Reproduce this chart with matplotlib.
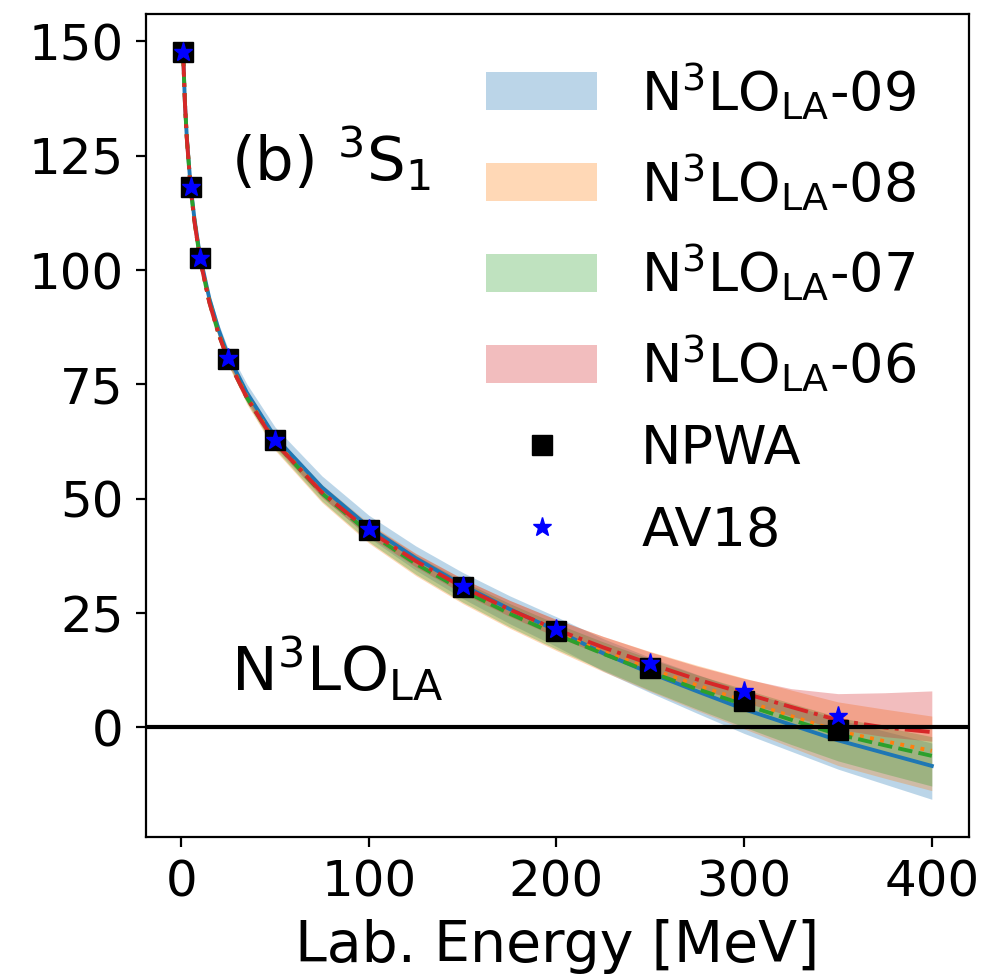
import matplotlib
matplotlib.use('Agg')
import matplotlib.pyplot as plt
import numpy as np

# lab energies [MeV] of the calculated curves
energy = [1, 2, 3, 5, 7, 10, 15, 20, 25, 35, 50, 75, 100, 125, 150, 175, 200, 225, 250, 275, 300, 325, 350, 375, 400]

# central phase shifts [deg] and band offsets (upper / lower) for each model
d09 = [147.7, 136.6, 129.0, 118.5, 111.4, 103.1, 93.8, 86.9, 81.3, 73.2, 63.5, 52.5, 43.8, 37.0, 31.1, 25.9, 21.2, 16.2, 11.9, 7.9, 4.0, 0.6, -2.8, -5.6, -8.4]
d09_hi = [0.1, 0.2, 0.3, 0.5, 0.6, 0.8, 1.0, 1.3, 1.5, 1.9, 2.2, 2.5, 2.6, 2.7, 2.8, 2.9, 3.0, 3.2, 3.4, 3.7, 4.0, 4.3, 4.6, 4.8, 5.0]
d09_lo = [0.1, 0.2, 0.3, 0.4, 0.5, 0.6, 0.8, 1.0, 1.2, 1.4, 1.7, 2.0, 2.3, 2.6, 2.9, 3.2, 3.5, 3.9, 4.3, 4.8, 5.3, 5.8, 6.3, 6.8, 7.3]

d08 = [147.7, 136.5, 128.8, 118.2, 111.0, 102.6, 93.1, 86.1, 80.5, 72.3, 62.5, 51.4, 42.8, 36.0, 30.2, 25.2, 20.7, 16.6, 12.8, 9.2, 5.8, 2.5, -0.8, -3.0, -5.1]
d08_hi = [0.1, 0.2, 0.3, 0.4, 0.5, 0.6, 0.8, 1.0, 1.1, 1.3, 1.5, 1.7, 1.9, 2.1, 2.3, 2.6, 2.9, 3.3, 3.8, 4.4, 5.0, 5.7, 6.4, 7.0, 7.6]
d08_lo = [0.1, 0.2, 0.3, 0.4, 0.5, 0.7, 0.9, 1.1, 1.3, 1.6, 1.9, 2.2, 2.5, 2.8, 3.1, 3.5, 3.9, 4.4, 4.9, 5.5, 6.1, 6.8, 7.5, 8.1, 8.7]

d07 = [147.7, 136.5, 128.8, 118.1, 110.9, 102.5, 93.0, 86.0, 80.4, 72.1, 62.3, 51.2, 42.6, 35.8, 30.0, 24.9, 20.3, 16.1, 12.1, 8.4, 5.0, 1.7, -1.5, -3.9, -6.2]
d07_hi = [0.1, 0.1, 0.2, 0.3, 0.4, 0.5, 0.6, 0.7, 0.8, 1.0, 1.2, 1.4, 1.6, 1.8, 2.0, 2.2, 2.4, 2.6, 2.9, 3.1, 3.4, 3.6, 3.8, 4.0, 4.2]
d07_lo = [0.1, 0.1, 0.2, 0.3, 0.4, 0.5, 0.7, 0.8, 0.9, 1.1, 1.4, 1.7, 2.0, 2.3, 2.6, 2.9, 3.2, 3.6, 4.0, 4.4, 4.9, 5.4, 5.8, 6.2, 6.6]

d06 = [147.7, 136.4, 128.7, 118.0, 110.8, 102.4, 92.9, 85.9, 80.3, 72.1, 62.3, 51.4, 43.0, 36.4, 30.7, 25.8, 21.4, 17.5, 13.9, 10.5, 7.5, 4.5, 1.6, 0.0, -1.0]
d06_hi = [0.1, 0.1, 0.2, 0.3, 0.4, 0.5, 0.6, 0.7, 0.8, 0.9, 1.0, 1.2, 1.4, 1.6, 1.8, 2.0, 2.2, 2.4, 2.6, 2.9, 3.2, 4.0, 5.8, 7.6, 9.0]
d06_lo = [0.1, 0.1, 0.2, 0.3, 0.3, 0.4, 0.5, 0.6, 0.7, 0.8, 1.0, 1.1, 1.2, 1.3, 1.4, 1.5, 1.6, 1.7, 1.8, 1.9, 2.0, 2.0, 2.0, 2.0, 2.0]

# reference phase shifts
e_ref = [1, 5, 10, 25, 50, 100, 150, 200, 250, 300, 350]
npwa = [147.7, 118.2, 102.6, 80.6, 62.8, 43.2, 30.7, 21.2, 13.1, 5.8, -0.6]
av18 = [147.7, 118.2, 102.6, 80.7, 62.9, 43.4, 31.0, 21.6, 14.2, 8.0, 2.6]

models = [
    ('09', d09, d09_hi, d09_lo, 'tab:blue', '-'),
    ('08', d08, d08_hi, d08_lo, 'tab:orange', ':'),
    ('07', d07, d07_hi, d07_lo, 'tab:green', '--'),
    ('06', d06, d06_hi, d06_lo, 'tab:red', '-.'),
]

plt.rcParams['font.size'] = 36
plt.rcParams['mathtext.default'] = 'regular'

fig = plt.figure(figsize=(9.84, 9.77), dpi=100)
ax = fig.add_axes([0.148, 0.1436, 0.837, 0.842])

E = np.array(energy)
for tag, c, hi, lo, col, ls in models:
    c = np.array(c)
    ax.fill_between(E, c - np.array(lo), c + np.array(hi), color=col, alpha=0.3, lw=0,
                    label=r'N$^3$LO$_{LA}$-' + tag)
    ax.plot(E, c, color=col, ls=ls, lw=2.8)

ax.plot(e_ref, npwa, 's', color='black', ms=14, label='NPWA')
ax.plot(e_ref, av18, '*', color='blue', ms=14, label='AV18')
ax.axhline(0, color='black', lw=3)

ax.text(0.104, 0.8225, r'(b) $^3$S$_1$', transform=ax.transAxes, va='center', ha='left', fontsize=44)
ax.text(0.104, 0.178, r'N$^3$LO$_{LA}$', transform=ax.transAxes, va='baseline', ha='left', fontsize=44)

ax.set_xlabel('Lab. Energy [MeV]', fontsize=41)
ax.xaxis.label.set_verticalalignment('baseline')
ax.xaxis.set_label_coords(0.5, -0.1523)
ax.set_xticks([0, 100, 200, 300, 400])
ax.set_yticks([0, 25, 50, 75, 100, 125, 150])
ax.tick_params(length=7, width=1.6, pad=9)
for s in ax.spines.values():
    s.set_linewidth(1.6)

ax.legend(loc='upper right', bbox_to_anchor=(0.982, 0.99), frameon=False, fontsize=39,
          handlelength=2.05, handletextpad=0.81, labelspacing=0.55, borderaxespad=0.3)

plt.savefig('out.png', dpi=100)
